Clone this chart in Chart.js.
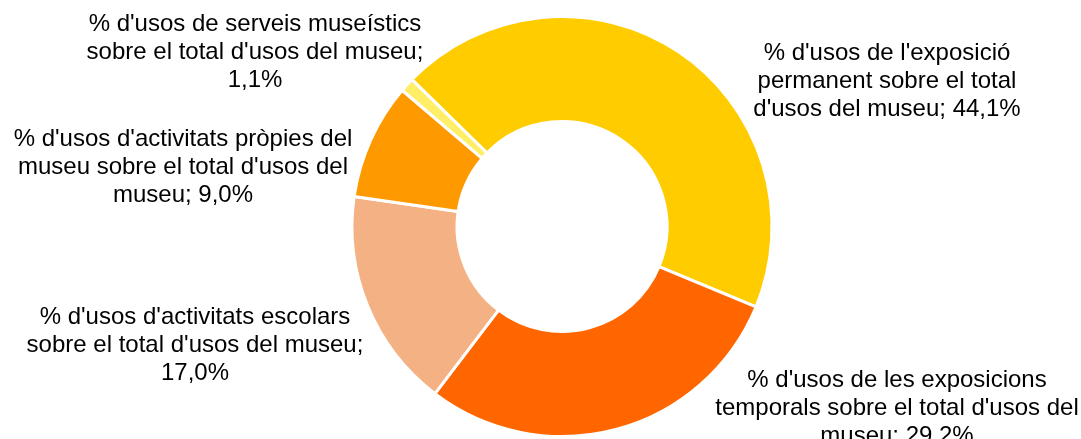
<!DOCTYPE html>
<html>
<head>
<meta charset="utf-8">
<script src="https://cdn.jsdelivr.net/npm/chart.js@4/dist/chart.umd.min.js"></script>
<style>
  html, body { margin: 0; padding: 0; background: #fff; }
  #wrap { width: 1081px; height: 439px; }
</style>
</head>
<body>
<div id="wrap"><canvas id="myChart" width="1081" height="439"></canvas></div>
<script>
const categories = [
  "% d'usos de l'exposició permanent sobre el total d'usos del museu",
  "% d'usos de les exposicions temporals sobre el total d'usos del museu",
  "% d'usos d'activitats escolars sobre el total d'usos del museu",
  "% d'usos d'activitats pròpies del museu sobre el total d'usos del museu",
  "% d'usos de serveis museístics sobre el total d'usos del museu",
];
const values = [44.1, 29.2, 17.0, 9.0, 1.1];
const valueLabels = ["44,1%", "29,2%", "17,0%", "9,0%", "1,1%"];
const sliceColors = ["#FFCC00", "#FF6600", "#F4B183", "#FF9900", "#FFEE66"];

// label text is wrapped the same way as in the original
const labelLines = [
  ["% d'usos de l'exposició", "permanent sobre el total", "d'usos del museu; 44,1%"],
  ["% d'usos de les exposicions", "temporals sobre el total d'usos del", "museu; 29,2%"],
  ["% d'usos d'activitats escolars", "sobre el total d'usos del museu;", "17,0%"],
  ["% d'usos d'activitats pròpies del", "museu sobre el total d'usos del", "museu; 9,0%"],
  ["% d'usos de serveis museístics", "sobre el total d'usos del museu;", "1,1%"],
];
// where each label block sits (center x, first line y)
const labelAnchor = [
  [887, 53],
  [897, 380],
  [195, 317],
  [183, 139],
  [255, 24],
];

const outsideLabels = {
  id: "outsideLabels",
  afterDraw(chart) {
    const ctx = chart.ctx;
    ctx.save();
    ctx.font = "24px 'Liberation Sans', Arial, sans-serif";
    ctx.fillStyle = "#000";
    ctx.textAlign = "center";
    ctx.textBaseline = "middle";
    labelLines.forEach((lines, i) => {
      const [x, y] = labelAnchor[i];
      lines.forEach((line, j) => {
        ctx.fillText(line, x, y + j * 28);
      });
    });
    ctx.restore();
  },
};

const config = {
  type: "doughnut",
  data: {
    labels: categories,
    datasets: [
      {
        data: values,
        backgroundColor: sliceColors,
        borderColor: "#ffffff",
        borderWidth: 3,
      },
    ],
  },
  options: {
    responsive: false,
    animation: false,
    rotation: -45.6,
    cutout: "50%",
    layout: {
      padding: { left: 100, right: 57, top: 15, bottom: 1 },
    },
    plugins: {
      legend: { display: false },
      tooltip: { enabled: false },
    },
  },
  plugins: [outsideLabels],
};

const myChart = new Chart(document.getElementById("myChart"), config);
</script>
</body>
</html>
